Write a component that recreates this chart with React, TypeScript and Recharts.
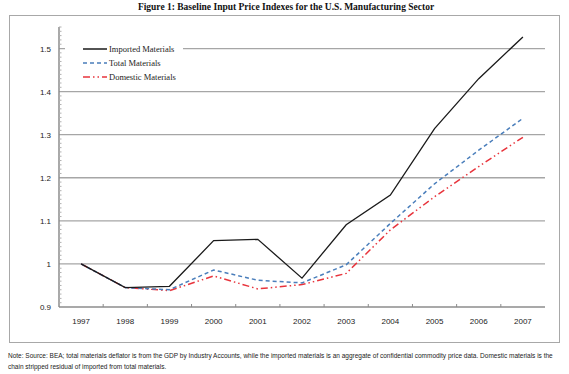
import React from "react";
import { LineChart, Line, XAxis, YAxis, ReferenceLine } from "recharts";

const years = [1997, 1998, 1999, 2000, 2001, 2002, 2003, 2004, 2005, 2006, 2007];
const imported = [1.0, 0.945, 0.948, 1.054, 1.057, 0.967, 1.091, 1.16, 1.314, 1.43, 1.527];
const total = [1.0, 0.945, 0.94, 0.986, 0.962, 0.956, 0.998, 1.094, 1.186, 1.264, 1.338];
const domestic = [1.0, 0.945, 0.938, 0.972, 0.942, 0.952, 0.978, 1.079, 1.156, 1.226, 1.294];
const majorTicks = [0.9, 1.0, 1.1, 1.2, 1.3, 1.4, 1.5];
const yTickLabels = ["0.9", "1", "1.1", "1.2", "1.3", "1.4", "1.5"];

const data = years.map((year, i) => ({
  year,
  imported: imported[i],
  total: total[i],
  domestic: domestic[i],
}));

// minor ticks every 0.01 on the y axis, boundary ticks between years on the x axis
const yTicks: number[] = [];
for (let i = 0; i <= 65; i++) yTicks.push(Math.round((0.9 + i * 0.01) * 100) / 100);
const xTicks: number[] = [];
years.forEach((y) => {
  xTicks.push(y - 0.5);
  xTicks.push(y);
});
xTicks.push(years[years.length - 1] + 0.5);

const axisColor = "#8c8c8c";
const labelFont = "'Liberation Sans', Arial, sans-serif";

const YTick = ({ x, y, payload }: any) => {
  const idx = majorTicks.findIndex((t) => Math.abs(t - payload.value) < 1e-6);
  if (idx >= 0) {
    return (
      <text x={x - 8} y={y + 3} textAnchor="end" fontSize={8} fill="#222" fontFamily={labelFont}>
        {yTickLabels[idx]}
      </text>
    );
  }
  return <line x1={x} x2={x + 2.5} y1={y} y2={y} stroke="#b0b0b0" strokeWidth={1} />;
};

const XTick = ({ x, y, payload }: any) => {
  if (Number.isInteger(payload.value)) {
    return (
      <text x={x} y={y + 17} textAnchor="middle" fontSize={8} fill="#222" fontFamily={labelFont}>
        {payload.value}
      </text>
    );
  }
  if (payload.value < years[0] || payload.value > years[years.length - 1]) return null;
  return <line x1={x} x2={x} y1={y} y2={y - 3} stroke={axisColor} strokeWidth={1} />;
};

const legendItems = [
  { label: "Imported Materials", color: "#1a1a1a", dash: "" },
  { label: "Total Materials", color: "#4a7ebb", dash: "4 3" },
  { label: "Domestic Materials", color: "#e8343c", dash: "7 3 1.5 3 1.5 3" },
];

const ChartLegend = () => (
  <div
    style={{
      position: "absolute",
      left: 65,
      top: 41,
      width: 118,
      background: "#fff",
      padding: "1px 0 1px 18px",
      boxSizing: "border-box",
    }}
  >
    {legendItems.map((it) => (
      <div key={it.label} style={{ display: "flex", alignItems: "center", height: 14 }}>
        <svg width={24} height={6} style={{ marginRight: 2 }}>
          <line x1={0} x2={24} y1={3} y2={3} stroke={it.color} strokeWidth={1.5} strokeDasharray={it.dash} />
        </svg>
        <span style={{ fontFamily: "'Liberation Serif', 'Times New Roman', serif", fontSize: 8.5, color: "#222" }}>
          {it.label}
        </span>
      </div>
    ))}
  </div>
);

export default function App() {
  return (
    <div style={{ position: "absolute", left: 0, top: 0, width: 569, height: 374, background: "#fff" }}>
      <div
        style={{
          position: "absolute",
          top: 2,
          left: 0,
          width: 572,
          textAlign: "center",
          fontFamily: "'Liberation Serif', 'Times New Roman', serif",
          fontWeight: "bold",
          fontSize: 9.5,
          color: "#111",
        }}
      >
        Figure 1: Baseline Input Price Indexes for the U.S. Manufacturing Sector
      </div>
      <div
        style={{
          position: "absolute",
          left: 9,
          top: 15,
          width: 551,
          height: 328,
          border: "1.5px solid #a8a8a8",
          boxSizing: "border-box",
        }}
      />
      <div style={{ position: "absolute", left: 0, top: 0 }}>
        <LineChart width={569} height={374} data={data} margin={{ top: 27, right: 24, left: 19, bottom: 37 }}>
          {majorTicks.slice(1).map((t) => (
            <ReferenceLine key={t} y={t} stroke="#a6a6a6" strokeWidth={1.3} />
          ))}
          <XAxis
            dataKey="year"
            type="number"
            domain={[1996.5, 2007.5]}
            ticks={xTicks}
            interval={0}
            tickLine={false}
            tickSize={0}
            tickMargin={0}
            tick={<XTick />}
            axisLine={{ stroke: axisColor, strokeWidth: 1.5 }}
            height={30}
          />
          <YAxis
            type="number"
            domain={[0.9, 1.55]}
            ticks={yTicks}
            interval={0}
            tickLine={false}
            tickSize={0}
            tickMargin={0}
            tick={<YTick />}
            axisLine={{ stroke: axisColor, strokeWidth: 1.5 }}
            width={40}
            allowDataOverflow
          />
          <Line
            type="linear"
            dataKey="domestic"
            stroke="#e8343c"
            strokeWidth={1.5}
            strokeDasharray="7 3 1.5 3 1.5 3"
            dot={false}
            isAnimationActive={false}
          />
          <Line
            type="linear"
            dataKey="total"
            stroke="#4a7ebb"
            strokeWidth={1.5}
            strokeDasharray="4 3"
            dot={false}
            isAnimationActive={false}
          />
          <Line
            type="linear"
            dataKey="imported"
            stroke="#1a1a1a"
            strokeWidth={1.3}
            dot={false}
            isAnimationActive={false}
          />
        </LineChart>
      </div>
      <ChartLegend />
      <div
        style={{
          position: "absolute",
          left: 8,
          top: 350,
          width: 554,
          fontFamily: "'Liberation Sans', Arial, sans-serif",
          fontSize: 6.5,
          lineHeight: "11px",
          color: "#222",
        }}
      >
        Note: Source: BEA; total materials deflator is from the GDP by Industry Accounts, while the imported materials is an aggregate of confidential commodity price data. Domestic materials is the chain stripped residual of imported from total materials.
      </div>
    </div>
  );
}
